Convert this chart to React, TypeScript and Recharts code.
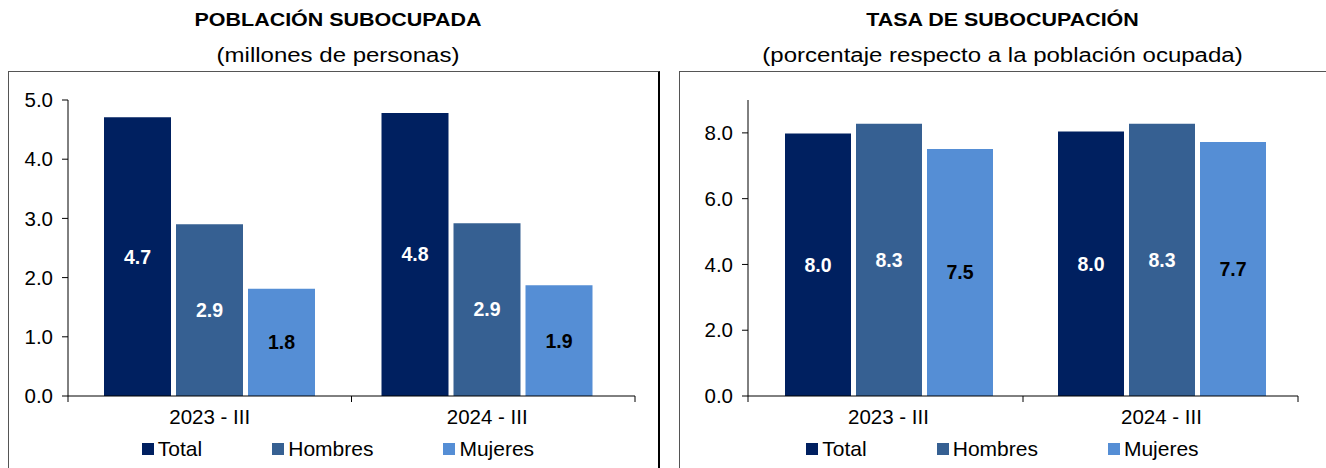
import React from "react";
import { BarChart, Bar, XAxis, YAxis, LabelList } from "recharts";

const categories = ["2023 - III", "2024 - III"];

// Población subocupada (millones de personas)
const poblacionTotal = [4.71, 4.78];
const poblacionHombres = [2.9, 2.92];
const poblacionMujeres = [1.81, 1.87];

// Tasa de subocupación (% de la población ocupada)
const tasaTotal = [7.98, 8.04];
const tasaHombres = [8.28, 8.28];
const tasaMujeres = [7.51, 7.72];

const leftTicks = [0, 1, 2, 3, 4, 5];
const rightTicks = [0, 2, 4, 6, 8];

const SERIES = [
  { key: "total", name: "Total", color: "#002060", label: "#ffffff" },
  { key: "hombres", name: "Hombres", color: "#366092", label: "#ffffff" },
  { key: "mujeres", name: "Mujeres", color: "#558ED5", label: "#000000" },
];

const FONT = "'Liberation Sans', Arial, sans-serif";

function buildRows(t: number[], h: number[], m: number[]) {
  return categories.map((c, i) => ({ cat: c, total: t[i], hombres: h[i], mujeres: m[i] }));
}

const poblacionData = buildRows(poblacionTotal, poblacionHombres, poblacionMujeres);
const tasaData = buildRows(tasaTotal, tasaHombres, tasaMujeres);

// category label plus tick marks splitting the whole axis evenly (like Excel)
function CatTick(props: any) {
  const { x, y, payload, index, width, visibleTicksCount, pad } = props;
  const n = visibleTicksCount;
  const inner = (width - pad.left - pad.right) / n;
  const axisLeft = x - pad.left - (index + 0.5) * inner;
  const step = width / n;
  const edge = axisLeft + index * step;
  return (
    <g>
      <line x1={edge} x2={edge} y1={y} y2={y + 6} stroke="#000" />
      {index === n - 1 && (
        <line x1={axisLeft + width} x2={axisLeft + width} y1={y} y2={y + 6} stroke="#000" />
      )}
      <text x={x} y={y + 28} textAnchor="middle" fontSize={20.5} fill="#000" fontFamily={FONT}>
        {payload.value}
      </text>
    </g>
  );
}

function Legend() {
  return (
    <div
      style={{
        display: "flex",
        justifyContent: "center",
        gap: 70,
        fontSize: 21,
        fontFamily: FONT,
        color: "#000",
      }}
    >
      {SERIES.map((s) => (
        <div key={s.key} style={{ display: "flex", alignItems: "center" }}>
          <span style={{ width: 12, height: 12, background: s.color, marginRight: 4, display: "inline-block" }} />
          {s.name}
        </div>
      ))}
    </div>
  );
}

interface PanelProps {
  left: number;
  width: number;
  title: string;
  subtitle: string;
  data: any[];
  domain: [number, number];
  ticks: number[];
  margin: { top: number; right: number; bottom: number; left: number };
  padding: { left: number; right: number };
  barSize: number;
  boxLeft: number;
  boxWidth: number;
  textLeft: number;
  textWidth: number;
  thickRight?: boolean;
}

function Panel(p: PanelProps) {
  return (
    <>
      <div
        style={{
          position: "absolute",
          left: p.boxLeft,
          top: 71,
          width: p.boxWidth,
          height: 420,
          border: "1px solid #555",
          borderRight: p.thickRight ? "2px solid #000" : "1px solid #555",
          boxSizing: "border-box",
        }}
      />
      <div
        style={{
          position: "absolute",
          left: p.textLeft,
          width: p.textWidth,
          top: 9,
          textAlign: "center",
          fontFamily: FONT,
          color: "#000",
        }}
      >
        <div style={{ fontWeight: "bold", fontSize: 18.5, lineHeight: "22px", transform: "scaleX(1.16)" }}>
          {p.title}
        </div>
        <div style={{ fontSize: 20, lineHeight: "22px", marginTop: 13, transform: "scaleX(1.2)" }}>
          {p.subtitle}
        </div>
      </div>
      <div style={{ position: "absolute", left: p.left, top: 0 }}>
        <BarChart
          width={p.width}
          height={468}
          data={p.data}
          margin={p.margin}
          barGap={5}
          barSize={p.barSize}
          style={{ fontFamily: FONT }}
        >
          <XAxis
            dataKey="cat"
            axisLine={{ stroke: "#000" }}
            tickLine={false}
            tickSize={0}
            tickMargin={0}
            height={30}
            interval={0}
            padding={p.padding}
            tick={<CatTick pad={p.padding} />}
          />
          <YAxis
            domain={p.domain}
            ticks={p.ticks}
            width={50}
            axisLine={{ stroke: "#000" }}
            tickLine={{ stroke: "#000" }}
            tickSize={6}
            tickMargin={9}
            tick={{ fill: "#000", fontSize: 20.5, fontFamily: FONT }}
            tickFormatter={(v: number) => v.toFixed(1)}
          />
          {SERIES.map((s) => (
            <Bar key={s.key} dataKey={s.key} name={s.name} fill={s.color} isAnimationActive={false}>
              <LabelList
                dataKey={s.key}
                position="center"
                formatter={(v: any) => Number(v).toFixed(1)}
                fill={s.label}
                fontSize={19.5}
                fontWeight="bold"
                fontFamily={FONT}
              />
            </Bar>
          ))}
        </BarChart>
      </div>
      <div style={{ position: "absolute", left: p.textLeft, width: p.textWidth, top: 437 }}>
        <Legend />
      </div>
    </>
  );
}

export default function App() {
  return (
    <div
      style={{
        position: "fixed",
        left: 0,
        top: 0,
        width: 1326,
        height: 468,
        background: "#fff",
        overflow: "hidden",
      }}
    >
      <Panel
        left={0}
        width={660}
        title="POBLACIÓN SUBOCUPADA"
        subtitle="(millones de personas)"
        data={poblacionData}
        domain={[0, 5]}
        ticks={leftTicks}
        margin={{ top: 100, right: 25, bottom: 42, left: 18 }}
        padding={{ left: 3, right: 9 }}
        barSize={67}
        boxLeft={8}
        boxWidth={652}
        textLeft={12}
        textWidth={652}
        thickRight
      />
      <Panel
        left={670}
        width={656}
        title="TASA DE SUBOCUPACIÓN"
        subtitle="(porcentaje respecto a la población ocupada)"
        data={tasaData}
        domain={[0, 9]}
        ticks={rightTicks}
        margin={{ top: 100, right: 28, bottom: 42, left: 28 }}
        padding={{ left: 4, right: 0 }}
        barSize={66}
        boxLeft={679}
        boxWidth={660}
        textLeft={679}
        textWidth={647}
      />
    </div>
  );
}
